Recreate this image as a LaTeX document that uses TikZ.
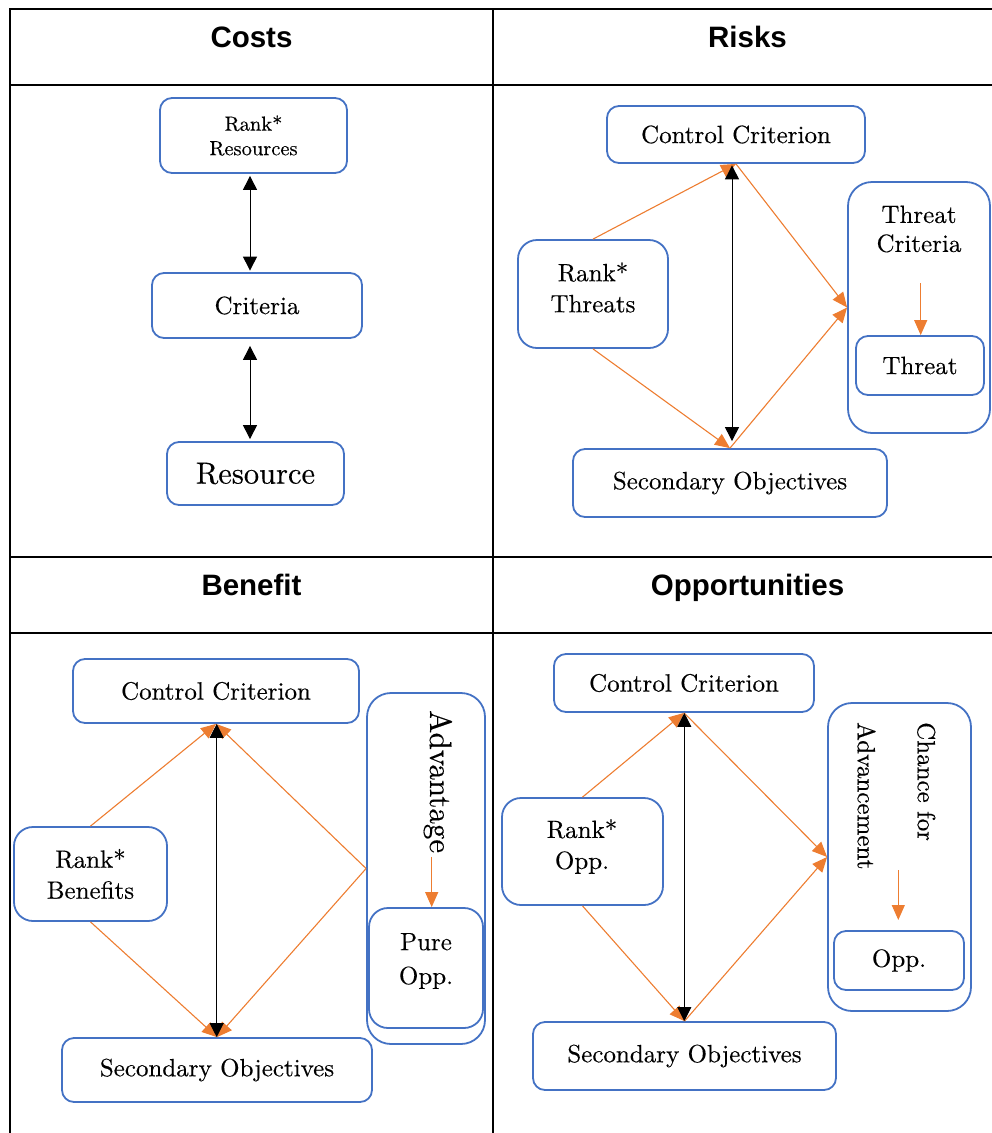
\documentclass[tikz,border=0pt]{standalone}
\usepackage{fontspec}
\setmainfont{lmroman10-regular.otf}[FakeBold=0.3]
\newfontfamily\headfont{Liberation Sans}
\usetikzlibrary{arrows.meta}
\definecolor{boxblue}{HTML}{4472C4}
\definecolor{flow}{HTML}{ED7D31}
\tikzset{
  cbox/.style={draw=boxblue, line width=1.8bp, rounded corners=12bp, align=center,
    inner sep=0pt, font=\fontsize{25bp}{31bp}\selectfont},
  cround/.style={cbox, rounded corners=19bp},
  cbig/.style={cbox, rounded corners=24bp},
  txt/.style={align=center, inner sep=0pt, font=\fontsize{25bp}{29bp}\selectfont},
  vtext/.style={rotate=-90, anchor=base west, inner sep=0pt, font=\fontsize{25bp}{29bp}\selectfont},
  hdr/.style={anchor=base, inner sep=0pt, font=\headfont\bfseries\fontsize{29.5bp}{34bp}\selectfont},
  bidir/.style={line width=1bp, {Triangle[length=14bp,width=14bp]}-{Triangle[length=14bp,width=14bp]}},
  feed/.style={draw=flow, line width=1.1bp, -{Triangle[length=15bp,width=13bp]}},
  rule/.style={line width=2.2bp},
  thinrule/.style={line width=1.2bp}
}
\begin{document}
\begin{tikzpicture}[x=1bp,y=-1bp]
\useasboundingbox (0,0) rectangle (992,1133);

% table grid
\draw[rule] (992,9) -- (10,9) -- (10,1133);
\draw[rule] (493,9) -- (493,1133);
\draw[thinrule] (10,85) -- (992,85);
\draw[rule] (10,557) -- (992,557);
\draw[thinrule] (10,633) -- (992,633);

% column headings
\node[hdr] (hc) at (251.5,47) {Costs};
\node[hdr] (hr) at (747.5,47) {Risks};
\node[hdr] (hb) at (251.5,595) {Benefit};
\node[hdr] (ho) at (747.5,595) {Opportunities};

% ---------------- Costs
\node[cbox, minimum width=187bp, minimum height=75bp, font=\fontsize{20.5bp}{24.5bp}\selectfont] (rr) at (253.5,135.5) {Rank*\\Resources};
\node[cbox, minimum width=210bp, minimum height=65bp] (cr) at (257,305.5) {Criteria};
\node[cbox, minimum width=177bp, minimum height=63bp, font=\fontsize{30.5bp}{36bp}\selectfont] (rs) at (255.5,473.5) {Resource};
\coordinate (xa) at (250,0);
\draw[bidir, shorten <=2bp, shorten >=1.5bp] (xa |- rr.south) -- (xa |- cr.north);
\draw[bidir, shorten <=7bp, shorten >=2bp] (xa |- cr.south) -- (xa |- rs.north);

% ---------------- Risks
\node[cbox, minimum width=258bp, minimum height=57bp] (cc2) at (736,134.5) {Control Criterion};
\node[cround, minimum width=150bp, minimum height=108bp] (rt) at (593,294) {};
\node[txt, font=\fontsize{25bp}{31bp}\selectfont] (rtt) at (593,287.5) {Rank*\\Threats};
\node[cbig, minimum width=142bp, minimum height=251bp] (tc) at (919,307.5) {};
\node[txt] (tct) at (919,229) {Threat\\Criteria};
\node[cbox, minimum width=128bp, minimum height=59bp] (th) at (920,365.5) {Threat};
\node[cbox, minimum width=314bp, minimum height=68bp] (so2) at (730,483) {Secondary Objectives};
\coordinate (t1) at (920.7,283);
\draw[feed] (t1) -- (t1 |- th.north);
\draw[feed] (rt.north) -- (cc2.south);
\draw[feed] (cc2.south) -- (tc.west);
\draw[feed] (rt.south) -- (so2.north);
\draw[feed] (so2.north) -- (tc.west);
\coordinate (xb) at (732,0);
\draw[bidir, shorten <=1.5bp, shorten >=7bp] (xb |- cc2.south) -- (xb |- so2.north);

% ---------------- Benefit
\node[cbox, minimum width=286bp, minimum height=64bp] (cc3) at (216,691) {Control Criterion};
\node[cround, minimum width=153bp, minimum height=94bp] (rb) at (90.5,874) {Rank*\\Benefits};
\node[cbig, minimum width=118bp, minimum height=351bp] (adv) at (426,868.5) {};
\node[vtext, font=\fontsize{31bp}{36bp}\selectfont] (advt) at (430,710) {Advantage};
\node[cround, minimum width=114bp, minimum height=120bp] (po) at (426,968) {};
\node[txt, font=\fontsize{25bp}{34bp}\selectfont] (pot) at (426,961) {Pure\\Opp.};
\node[cbox, minimum width=310bp, minimum height=64bp] (so3) at (217,1070) {Secondary Objectives};
\coordinate (t2) at (431.7,857);
\draw[feed] (t2) -- (t2 |- po.north);
\draw[feed] (rb.north) -- (cc3.south);
\draw[feed] (adv.west) -- (cc3.south);
\draw[feed] (rb.south) -- (so3.north);
\draw[feed] (adv.west) -- (so3.north);
\coordinate (xc) at (216.7,0);
\draw[bidir] (xc |- cc3.south) -- (xc |- so3.north);

% ---------------- Opportunities
\node[cbox, minimum width=260bp, minimum height=58bp] (cc4) at (684,683) {Control Criterion};
\node[cround, minimum width=161bp, minimum height=107bp] (ro) at (582.5,851.5) {};
\node[txt, font=\fontsize{25bp}{31bp}\selectfont] (rot) at (582,846.5) {Rank*\\Opp.};
\node[cbig, minimum width=143bp, minimum height=308bp] (ch) at (899.5,857) {};
\node[vtext] (cht1) at (917.7,722) {Chance for};
\node[vtext] (cht2) at (857.7,722) {Advancement};
\node[cbox, minimum width=130bp, minimum height=59bp] (op) at (899,960.5) {Opp.};
\node[cbox, minimum width=303bp, minimum height=68bp] (so4) at (684.5,1056) {Secondary Objectives};
\coordinate (t3a) at (898.3,870);
\coordinate (t3b) at (898.3,920);
\draw[feed] (t3a) -- (t3b);
\draw[feed] (ro.north) -- (cc4.south);
\draw[feed] (cc4.south) -- (ch.west);
\draw[feed] (ro.south) -- (so4.north);
\draw[feed] (so4.north) -- (ch.west);
\coordinate (xd) at (684.3,0);
\draw[bidir] (xd |- cc4.south) -- (xd |- so4.north);
\end{tikzpicture}
\end{document}
